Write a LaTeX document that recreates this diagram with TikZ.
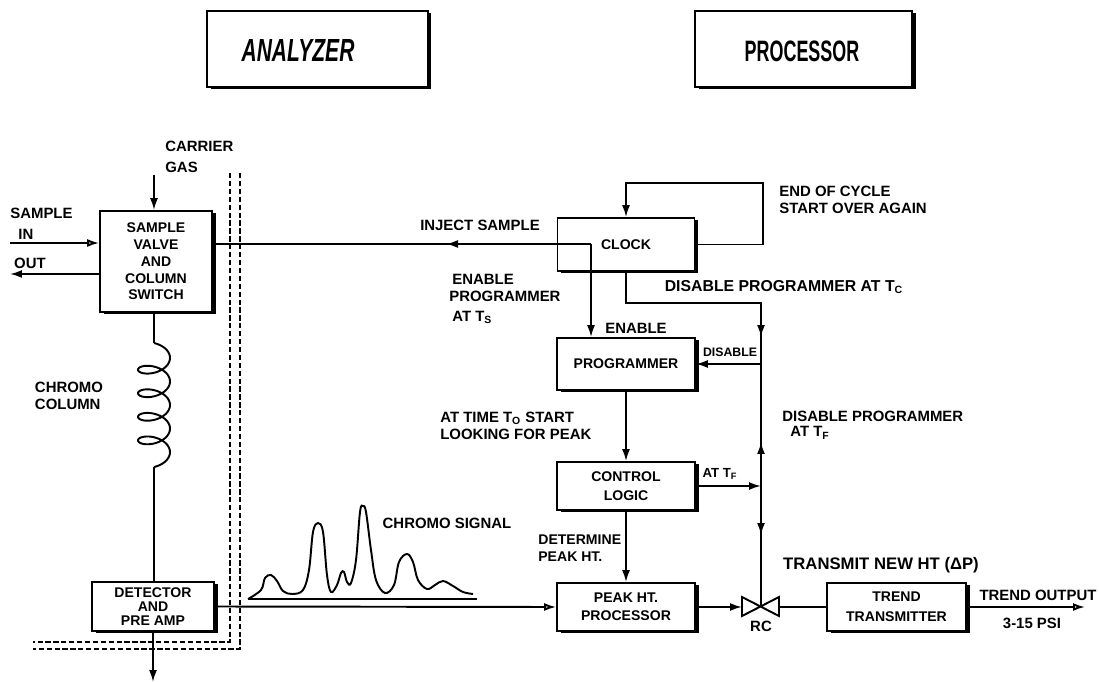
\documentclass[tikz,border=0pt]{standalone}
\usepackage{fontspec}
\setmainfont{Liberation Sans}
\usetikzlibrary{arrows.meta,shadows}
\tikzset{%
  box/.style={draw,fill=white,line width=1pt,align=center,inner sep=0pt,
    font=\bfseries\fontsize{8}{10.5}\selectfont,
    general shadow={fill=black,shadow xshift=2pt,shadow yshift=-1.3pt}},
  note/.style={inner sep=0pt,align=left,font=\bfseries\fontsize{8.5}{10}\selectfont},
  wire/.style={line width=1.1pt},
  arrow/.style={-{Latex[length=2.4mm,width=1.6mm]},line width=1.1pt},
  openarrow/.style={-{Latex[open,length=2.4mm,width=1.6mm]},line width=1.1pt},
  fence/.style={dashed,line width=.8pt,dash pattern=on 3pt off 1.5pt}%
}
\begin{document}
\begin{tikzpicture}[x=0.02cm,y=-0.02cm]
\useasboundingbox (0,0) rectangle (1099,682);

% Heading boxes
\node[box,minimum width=4.42cm,minimum height=1.52cm] (analyzer) at (317.5,49) {};
\node[box,minimum width=4.34cm,minimum height=1.52cm] (processor) at (803.5,49) {};
\node[note,font=\bfseries\itshape\fontsize{13}{15}\selectfont] (analyzertext) at (298,51) {\scalebox{.92}[1.4]{ANALYZER}};
\node[note,font=\bfseries\fontsize{12}{15}\selectfont] (processortext) at (802,51) {\scalebox{.85}[1.4]{PROCESSOR}};

% Analyzer side
\node[box,minimum width=2.24cm,minimum height=2.02cm,font=\bfseries\fontsize{8}{9.5}\selectfont] (valve) at (156,261.5) {SAMPLE\\VALVE\\AND\\COLUMN\\SWITCH};
\node[box,minimum width=2.44cm,minimum height=.98cm,font=\bfseries\fontsize{8}{8}\selectfont] (detector) at (153,606.5) {DETECTOR\\AND\\PRE AMP};

% Processor side
\node[box,minimum width=2.74cm,minimum height=1.06cm] (clock) at (626,244.5) {CLOCK};
\node[box,minimum width=2.76cm,minimum height=1.04cm] (programmer) at (626,364) {PROGRAMMER};
\node[box,minimum width=2.76cm,minimum height=.96cm,font=\bfseries\fontsize{8}{11}\selectfont] (control) at (626,486) {CONTROL\\LOGIC};
\node[box,minimum width=2.76cm,minimum height=.96cm] (peak) at (626,607) {PEAK HT.\\PROCESSOR};
\node[box,minimum width=2.78cm,minimum height=.96cm,font=\bfseries\fontsize{8}{11.5}\selectfont] (trend) at (896.5,607) {TREND\\TRANSMITTER};

% Free ends
\coordinate (carrier) at (154,175);
\coordinate (samplein) at (10,243);
\coordinate (sampleout) at (10,274);
\coordinate (drain) at (153,682);
\coordinate (trendout) at (1085,607);
\coordinate (injectmid) at (446,244);
\coordinate (clockjoin) at (591,244);
\coordinate (looptop) at (763,183);
\coordinate (busA) at (761,303);
\coordinate (busB) at (761,337);
\coordinate (busC) at (761,364);
\coordinate (busD) at (761,442);
\coordinate (busE) at (761,486);
\coordinate (busF) at (761,535);
\coordinate (rc) at (761,607);
\coordinate (rcin) at (742,607);
\coordinate (rcout) at (779,607);
\coordinate (coiltop) at (154,343);
\coordinate (coilend) at (154,467);

% Enclosure
\draw[fence] (230,173) |- (33,642);
\draw[fence] (240,173) |- (33,649);

% Analyzer flow
\draw[arrow] (carrier) -- (valve.north -| carrier);
\draw[openarrow] (samplein) -- (valve.west |- samplein);
\draw[arrow] (valve.west |- sampleout) -- (sampleout);
\draw[wire] (valve.south -| coiltop) -- (coiltop);
\draw[wire] plot[domain=-1.5708:26.7,samples=220,smooth,variable=\t] ({154+16*cos(\t r)},{357.9+3.75*\t+9*sin(\t r)});
\draw[wire] (coilend) -- (detector.north -| coilend);
\draw[arrow] (detector.south) -- (drain);
\draw[openarrow] (detector.east) -- (peak.west);

% Chromatogram
\draw[wire] (248,599) -- (477,599);
\draw[wire] plot[smooth,tension=.6] coordinates {(248,599) (261,590) (265,578) (271,575) (277,581) (283,591) (292,594) (303,590) (309,570) (313,532) (318,523) (323,532) (327,575) (331,592) (337,585) (341,573) (344,572) (347,582) (351,583) (356,560) (360,512) (363,506) (366,512) (371,550) (376,580) (385,593) (394,585) (399,562) (407,554) (413,562) (418,580) (427,589) (435,585) (443,581) (453,586) (463,592) (473,594)};

% Processor flow
\draw[wire] (valve.east |- injectmid) -- (clockjoin);
\draw[openarrow] (clockjoin) -- (injectmid);
\draw[arrow] (clockjoin) -- (programmer.north -| clockjoin);
\draw[arrow] (clock.east) -| (looptop) -| (clock.north);
\draw[wire] (busA) -- (rc);
\draw[arrow] (clock.south) |- (busA) -- (busB);
\draw[arrow] (busC) -- (programmer.east |- busC);
\draw[arrow] (busE) -- (busD);
\draw[arrow] (busE) -- (busF);
\draw[arrow] (control.east) -- (busE);
\draw[arrow] (programmer.south) -- (control.north);
\draw[arrow] (control.south) -- (peak.north);
\draw[arrow] (peak.east) -- (rcin);
\draw[wire] (rcout) -- (trend.west);
\draw[openarrow] (trend.east) -- (trendout);

% RC valve
\draw[wire,fill=white] (742,597) -- (779,616) -- (779,597) -- (742,616) -- cycle;

% Labels
\node[note,anchor=west] (carriertext) at (165,157) {CARRIER\\[2pt]GAS};
\node[note,anchor=west] (sampleintext) at (10,224) {SAMPLE\\[2pt]\hspace*{1.6mm}IN};
\node[note] (outtext) at (30,263) {OUT};
\node[note] (columntext) at (69,396) {CHROMO\\COLUMN};
\node[note] (signaltext) at (447,523) {CHROMO SIGNAL};
\node[note] (injecttext) at (480,225) {INJECT SAMPLE};
\node[note,anchor=west] (enabletext) at (449,299) {\hspace*{.6mm}ENABLE\\PROGRAMMER\\[1pt]\hspace*{.6mm}AT T\textsubscript{S}};
\node[note] (enablesmall) at (636,328) {ENABLE};
\node[note,font=\bfseries\fontsize{7}{8}\selectfont] (disablesmall) at (730,352) {DISABLE};
\node[note,anchor=west] (cycletext) at (779,200) {END OF CYCLE\\START OVER AGAIN};
\node[note,font=\bfseries\fontsize{9}{10}\selectfont] (disabletc) at (784,287) {DISABLE PROGRAMMER AT T\textsubscript{C}};
\node[note,anchor=west] (lookingtext) at (440,426) {AT TIME T\textsubscript{O} START\\LOOKING FOR PEAK};
\node[note,anchor=west] (disabletf) at (782,425) {DISABLE PROGRAMMER\\[-1pt]\hspace*{1.6mm}AT T\textsubscript{F}};
\node[note,font=\bfseries\fontsize{7.5}{8}\selectfont] (attf) at (720,474) {AT T\textsubscript{F}};
\node[note,font=\bfseries\fontsize{8}{10}\selectfont,anchor=west] (determinetext) at (538,548) {DETERMINE\\PEAK HT.};
\node[note] (rctext) at (761,626) {RC};
\node[note,font=\bfseries\fontsize{9.5}{10}\selectfont] (transmittext) at (881,565) {TRANSMIT NEW HT (ΔP)};
\node[note] (trendtext) at (1038,595) {TREND OUTPUT};
\node[note] (psitext) at (1032,623) {3-15 PSI};

\end{tikzpicture}
\end{document}
